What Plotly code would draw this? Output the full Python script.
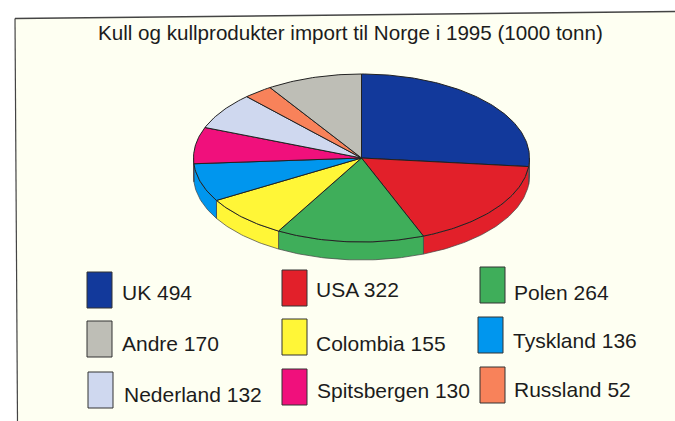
import numpy as np
import plotly.graph_objects as go

categories = ["UK", "USA", "Polen", "Colombia", "Tyskland", "Spitsbergen", "Nederland", "Russland", "Andre"]
values = [494, 322, 264, 155, 136, 130, 132, 52, 170]
colors = ["#12399B", "#E2202A", "#3FAE5A", "#FFF637", "#0096EE", "#F0107C", "#CFD8EF", "#F8825A", "#BEBEB6"]

# legend order and placement (pixels: swatch x0, y0, text x, text y)
legend_items = [
    ("UK", 87, 272, 120, 292), ("USA", 282, 270, 314, 289), ("Polen", 480, 267, 512, 292),
    ("Andre", 87, 321, 120, 343), ("Colombia", 282, 319, 314, 343), ("Tyskland", 478, 317, 511, 340),
    ("Nederland", 88, 372, 122, 394), ("Spitsbergen", 282, 369, 315, 390), ("Russland", 480, 367, 512, 389),
]

W, H = 675, 421
CX, CY, RX, RY, DEPTH = 361.5, 158, 168, 84, 18
INK = "#222222"
PANEL = "#FEFFF2"

total = sum(values)
edges = np.concatenate([[0], np.cumsum(values)]) / total * 2 * np.pi


def arc(a0, a1, dy=0.0):
    t = np.linspace(a0, a1, max(3, int((a1 - a0) * 60)))
    return CX + RX * np.sin(t), CY - RY * np.cos(t) + dy


fig = go.Figure()

# side walls (front half only)
for i, name in enumerate(categories):
    a0, a1 = max(edges[i], np.pi / 2), min(edges[i + 1], 3 * np.pi / 2)
    if a1 <= a0:
        continue
    xt, yt = arc(a0, a1)
    xb, yb = arc(a0, a1, DEPTH)
    fig.add_trace(go.Scatter(
        x=np.concatenate([xt, xb[::-1], xt[:1]]), y=np.concatenate([yt, yb[::-1], yt[:1]]),
        mode="lines", fill="toself", fillcolor=colors[i],
        line=dict(color="#444444", width=0.7), hoverinfo="skip", showlegend=False))

# top surface
for i, name in enumerate(categories):
    xt, yt = arc(edges[i], edges[i + 1])
    fig.add_trace(go.Scatter(
        x=np.concatenate([[CX], xt, [CX]]), y=np.concatenate([[CY], yt, [CY]]),
        mode="lines", fill="toself", fillcolor=colors[i], name=f"{name} {values[i]}",
        line=dict(color=INK, width=1), hoverinfo="name", showlegend=False))

shapes = [
    dict(type="path", path=f"M 15 18.5 L {W} 11.5 L {W} {H} L 17.5 {H} Z", xref="x", yref="y",
         fillcolor=PANEL, line=dict(width=0), layer="below"),
    dict(type="line", x0=15, y0=18.5, x1=W, y1=11.5, xref="x", yref="y", line=dict(color="#444444", width=1.5), layer="below"),
    dict(type="line", x0=15, y0=18.5, x1=17.5, y1=H, xref="x", yref="y", line=dict(color="#444444", width=1.2), layer="below"),
]
annotations = [dict(x=350, y=32, xref="x", yref="y", text="Kull og kullprodukter import til Norge i 1995 (1000 tonn)",
                    showarrow=False, xanchor="center", yanchor="middle",
                    font=dict(family="Liberation Sans", size=20.6, color="#1c1c1c"))]
for name, sx, sy, tx, ty in legend_items:
    i = categories.index(name)
    shapes.append(dict(type="rect", x0=sx, y0=sy, x1=sx + 25, y1=sy + 36, xref="x", yref="y",
                       fillcolor=colors[i], line=dict(color="#333333", width=1)))
    annotations.append(dict(x=tx, y=ty, xref="x", yref="y", text=f"{name} {values[i]}", showarrow=False,
                            xanchor="left", yanchor="middle",
                            font=dict(family="Liberation Sans", size=21, color="#1c1c1c")))

fig.update_layout(
    width=W, height=H, margin=dict(l=0, r=0, t=0, b=0), paper_bgcolor="white", plot_bgcolor="rgba(0,0,0,0)",
    xaxis=dict(range=[0, W], visible=False, fixedrange=True),
    yaxis=dict(range=[H, 0], visible=False, fixedrange=True),
    shapes=shapes, annotations=annotations, showlegend=False,
)
fig.write_html("out.html", config={"displayModeBar": False},
               post_script="document.body.style.margin='0';document.body.style.overflow='hidden';")
